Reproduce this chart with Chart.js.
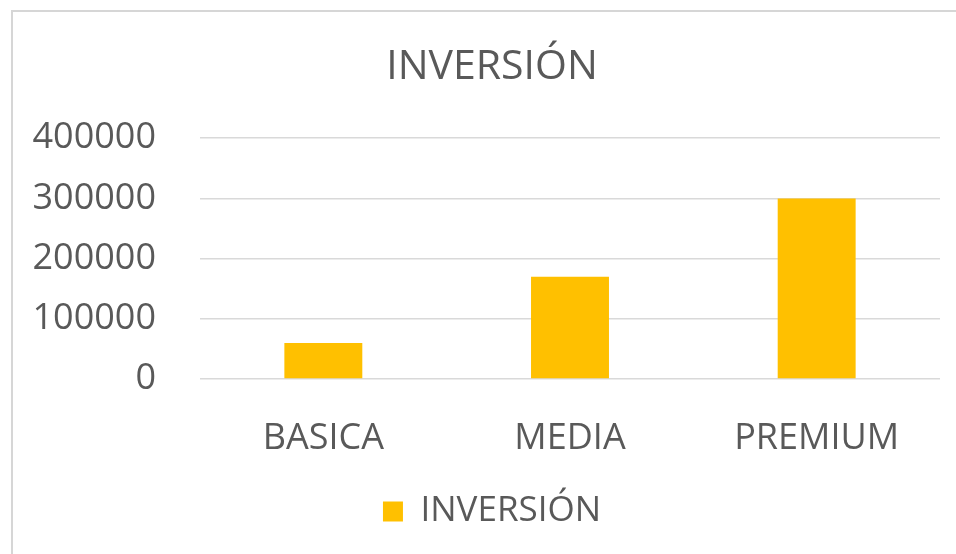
<!DOCTYPE html>
<html>
<head>
<meta charset="utf-8">
<script src="https://cdn.jsdelivr.net/npm/chart.js@4"></script>
<style>
	html, body { margin: 0; padding: 0; background: #fff; overflow: hidden; }
	#frame {
		position: absolute; left: 11px; top: 10px; right: 0; bottom: 0;
		border-top: 2px solid #d6d6d6; border-left: 2px solid #d6d6d6;
	}
	#wrap { position: absolute; left: 0; top: 0; width: 956px; height: 554px; }
</style>
</head>
<body>
<div id="frame"></div>
<div id="wrap"><canvas id="myChart"></canvas></div>
<script>
	const categories = ['BASICA', 'MEDIA', 'PREMIUM'];
	const inversion = [60000, 170000, 300000];
	const yTicks = [0, 100000, 200000, 300000, 400000];

	const textColor = '#595959';
	const font = 'Open Sans';

	const ctx = document.getElementById('myChart');

	const data = {
		labels: categories,
		datasets: [
			{
				label: 'INVERSIÓN',
				data: inversion,
				backgroundColor: '#FFC000',
				borderWidth: 0,
				categoryPercentage: 1,
				barPercentage: 0.316,
			},
		],
	};

	const config = {
		type: 'bar',
		data: data,
		options: {
			responsive: true,
			maintainAspectRatio: false,
			animation: false,
			layout: {
				padding: { left: 44, right: 16, top: 0, bottom: 15 },
			},
			plugins: {
				title: {
					display: true,
					text: 'INVERSIÓN',
					color: textColor,
					font: { family: font, size: 41, weight: 'normal' },
					padding: { top: 43, bottom: 46 },
				},
				legend: {
					display: true,
					position: 'bottom',
					labels: {
						color: textColor,
						font: { family: font, size: 35 },
						boxWidth: 20,
						boxHeight: 20,
						padding: 35,
					},
				},
				tooltip: { enabled: false },
			},
			scales: {
				x: {
					afterFit: function (scale) {
						scale.height = 80;
					},
					grid: { display: false, drawTicks: false },
					border: { display: false },
					ticks: {
						color: textColor,
						font: { family: font, size: 36 },
						padding: 38,
						maxRotation: 0,
						minRotation: 0,
					},
				},
				y: {
					min: yTicks[0],
					max: yTicks[yTicks.length - 1],
					afterFit: function (scale) {
						scale.width = 156;
						scale.paddingTop = 0;
						scale.paddingBottom = 0;
						// labels stick out past the left padding, so don't clip them
						scale._computeLabelArea = function () { return undefined; };
					},
					afterBuildTicks: function (scale) {
						scale.ticks = yTicks.map(function (v) { return { value: v }; });
					},
					grid: { color: '#d9d9d9', lineWidth: 1.5, drawTicks: false },
					border: { display: false },
					ticks: {
						color: textColor,
						font: { family: font, size: 36 },
						padding: 44,
						callback: function (v) { return String(v); },
					},
				},
			},
		},
	};

	const myChart = new Chart(ctx, config);
</script>
</body>
</html>
